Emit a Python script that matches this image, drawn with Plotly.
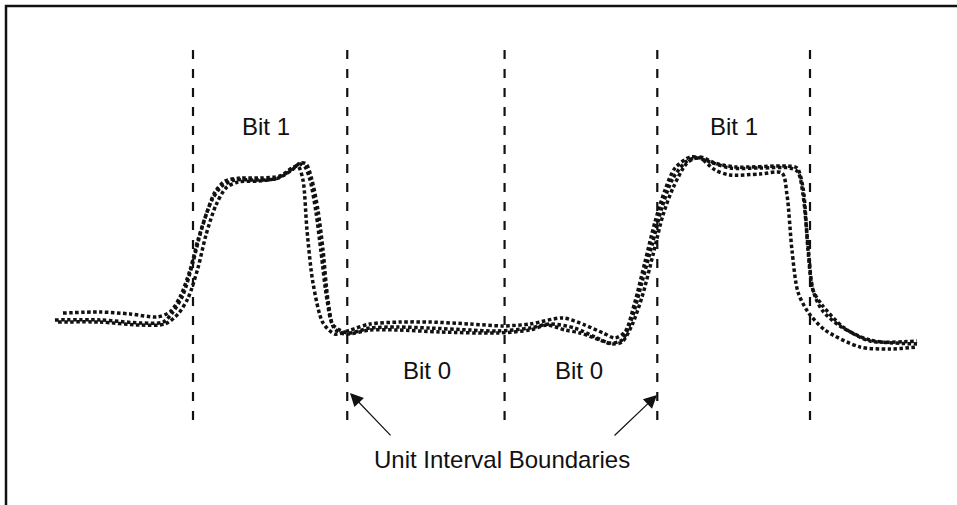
import plotly.graph_objects as go

# Time axis in unit intervals (UI), amplitude normalised to the logic-high level.
boundaries_ui = [0.0, 1.0, 2.02, 3.01, 4.0]

t_a = [-0.843, -0.603, -0.408, -0.233, -0.149, -0.084, -0.019, 0.032, 0.091, 0.143,
       0.207, 0.305, 0.434, 0.564, 0.642, 0.681, 0.713, 0.739, 0.778, 0.843,
       0.921, 1.018, 1.147, 1.342, 1.536, 1.796, 2.010, 2.185, 2.399,
       2.541, 2.658, 2.736, 2.801, 2.865, 2.930, 2.995, 3.060, 3.125, 3.222,
       3.287, 3.384, 3.481, 3.676, 3.818, 3.851, 3.883, 3.922, 3.987, 4.097,
       4.324, 4.519, 4.694]
v_a = [0.113, 0.120, 0.107, 0.087, 0.120, 0.220, 0.400, 0.600, 0.787, 0.920,
       0.993, 1.013, 1.013, 1.027, 1.080, 1.093, 1.000, 0.667, 0.313, 0.047,
       -0.027, 0.000, 0.040, 0.053, 0.053, 0.040, 0.027, 0.040, 0.080,
       0.033, -0.020, -0.053, -0.013, 0.187, 0.453, 0.720, 0.933, 1.080, 1.153,
       1.147, 1.067, 1.033, 1.040, 1.047, 0.900, 0.533, 0.253, 0.120, 0.000,
       -0.113, -0.127, -0.113]

t_b = [-0.895, -0.603, -0.344, -0.194, -0.130, -0.065, 0.000, 0.058, 0.123, 0.188,
       0.272, 0.402, 0.532, 0.616, 0.694, 0.726, 0.759, 0.797, 0.830, 0.869,
       0.908, 1.005, 1.147, 1.323, 1.536, 1.796, 1.971, 2.185, 2.314, 2.476,
       2.606, 2.703, 2.781, 2.846, 2.911, 2.976, 3.041, 3.112, 3.203, 3.267,
       3.352, 3.481, 3.676, 3.870, 3.922, 3.955, 3.987, 4.019, 4.078, 4.194,
       4.389, 4.694]
v_b = [0.067, 0.067, 0.047, 0.053, 0.120, 0.233, 0.453, 0.680, 0.867, 0.960,
       1.000, 1.000, 1.007, 1.053, 1.107, 1.087, 1.000, 0.787, 0.520, 0.200,
       0.033, -0.020, 0.013, 0.020, 0.013, 0.000, -0.007, 0.013, 0.040, 0.013,
       -0.047, -0.087, -0.067, 0.080, 0.320, 0.567, 0.820, 1.013, 1.127, 1.147,
       1.120, 1.080, 1.080, 1.080, 1.053, 0.900, 0.567, 0.267, 0.133, 0.027,
       -0.067, -0.093]

t_c = [-0.875, -0.603, -0.344, -0.182, -0.097, -0.032, 0.032, 0.084, 0.149, 0.214,
       0.292, 0.421, 0.551, 0.642, 0.694, 0.733, 0.771, 0.810, 0.843, 0.875,
       0.914, 0.985, 1.147, 1.323, 1.601, 1.971, 2.185, 2.295, 2.412, 2.509,
       2.639, 2.716, 2.781, 2.846, 2.911, 2.982, 3.047, 3.112, 3.203, 3.287,
       3.384, 3.514, 3.851, 3.916, 3.955, 3.987, 4.019, 4.078, 4.214, 4.389,
       4.694]
v_c = [0.053, 0.053, 0.033, 0.040, 0.107, 0.213, 0.413, 0.633, 0.833, 0.947,
       0.987, 0.993, 1.013, 1.067, 1.113, 1.107, 1.000, 0.800, 0.533, 0.200,
       0.013, -0.027, 0.000, 0.000, -0.013, -0.020, 0.000, 0.033, 0.000, -0.020,
       -0.067, -0.093, -0.080, 0.033, 0.220, 0.500, 0.767, 0.947, 1.113, 1.153,
       1.113, 1.087, 1.093, 1.080, 0.947, 0.533, 0.267, 0.167, 0.020, -0.073,
       -0.073]

bit_labels = ["Bit 1", "Bit 0", "Bit 0", "Bit 1"]
bit_label_t = [0.47, 1.52, 2.50, 3.51]
bit_label_v = [1.36, -0.267, -0.267, 1.36]

FONT = "Liberation Sans, Arial, sans-serif"
INK = "#111111"

fig = go.Figure()

# Unit interval boundary markers
for b in boundaries_ui:
    fig.add_trace(go.Scatter(
        x=[b, b], y=[1.867, -0.6], mode="lines",
        line=dict(color=INK, width=2.2, dash="9px,10px"),
        hoverinfo="skip", showlegend=False))

# Overlaid captured waveforms
for tt, vv in [(t_a, v_a), (t_b, v_b), (t_c, v_c)]:
    fig.add_trace(go.Scatter(
        x=tt, y=vv, mode="lines",
        line=dict(color=INK, width=3.5, dash="3.5px,2.5px", shape="spline", smoothing=0.8),
        hoverinfo="skip", showlegend=False))

annotations = []
for txt, tx, vy in zip(bit_labels, bit_label_t, bit_label_v):
    annotations.append(dict(x=tx, y=vy, text=txt, showarrow=False,
                            font=dict(family=FONT, size=24, color=INK)))

annotations.append(dict(x=2.0, y=-0.86, text="Unit Interval Boundaries", showarrow=False,
                        font=dict(family=FONT, size=24, color=INK)))

# Pointers to two of the boundaries
for head_t, head_v, tail_t, tail_v in [(1.018, -0.42, 1.29, -0.713),
                                       (3.008, -0.433, 2.723, -0.713)]:
    annotations.append(dict(x=head_t, y=head_v, ax=tail_t, ay=tail_v,
                            xref="x", yref="y", axref="x", ayref="y",
                            text="", showarrow=True, arrowhead=2, arrowsize=2.2,
                            arrowwidth=1.2, arrowcolor=INK))

fig.update_layout(
    width=957, height=505,
    margin=dict(l=0, r=0, t=0, b=0),
    paper_bgcolor="white", plot_bgcolor="white",
    xaxis=dict(range=[-1.2512, 4.9530], visible=False, fixedrange=True),
    yaxis=dict(range=[-1.1667, 2.2], visible=False, fixedrange=True),
    annotations=annotations,
    shapes=[dict(type="path", xref="paper", yref="paper",
                 path="M 0.00627,0 L 0.00627,0.98812 L 1,0.98812",
                 line=dict(color=INK, width=2.5))],
)

fig.write_html("out.html")
